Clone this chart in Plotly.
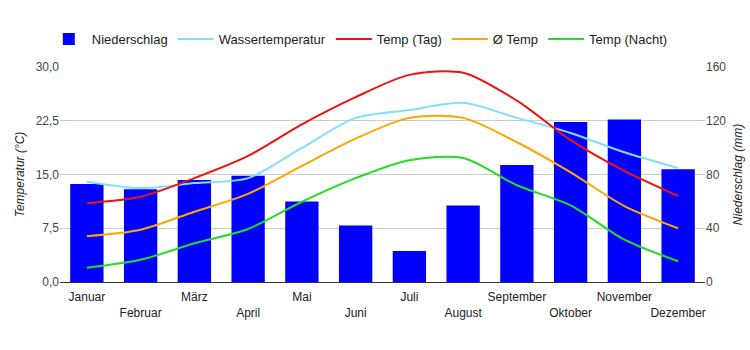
import plotly.graph_objects as go

months = ["Januar", "Februar", "März", "April", "Mai", "Juni", "Juli",
          "August", "September", "Oktober", "November", "Dezember"]
niederschlag = [73, 69, 76, 79, 60, 42, 23, 57, 87, 119, 121, 84]
wasser = [14.0, 13.1, 13.8, 14.5, 18.7, 22.9, 24.0, 25.0, 22.9, 20.8, 18.1, 15.9]
temp_tag = [11.0, 11.9, 14.5, 17.6, 22.0, 25.8, 28.9, 29.2, 25.3, 19.8, 15.5, 12.0]
temp_avg = [6.4, 7.3, 9.8, 12.3, 16.2, 20.0, 22.9, 22.9, 19.5, 15.3, 10.6, 7.5]
temp_nacht = [2.0, 3.1, 5.4, 7.4, 11.2, 14.5, 17.0, 17.3, 13.5, 10.7, 5.9, 2.9]
ytick_vals = [0, 7.5, 15, 22.5, 30]
y2tick_vals = [0, 40, 80, 120, 160]

ticktext = [m if i % 2 == 0 else "<br>" + m for i, m in enumerate(months)]

fig = go.Figure()
fig.add_trace(go.Bar(x=months, y=niederschlag, name="Niederschlag", yaxis="y",
                     marker=dict(color="#0000ff", line=dict(width=0)), width=0.62))
line_specs = [
    ("Wassertemperatur", wasser, "#80dfff"),
    ("Temp (Tag)", temp_tag, "#ee1111"),
    ("Ø Temp", temp_avg, "#ffa500"),
    ("Temp (Nacht)", temp_nacht, "#22dd22"),
]
for name, vals, col in line_specs:
    fig.add_trace(go.Scatter(x=months, y=vals, name=name, mode="lines", yaxis="y2",
                             line=dict(color=col, width=2, shape="spline", smoothing=0.8)))

fig.update_layout(
    width=750, height=350,
    margin=dict(l=60, r=45, t=67, b=68, autoexpand=False),
    paper_bgcolor="white", plot_bgcolor="white",
    font=dict(family="Liberation Sans, Arial, sans-serif", size=12, color="#333"),
    separators=",.",
    legend=dict(orientation="h", x=-0.022, xanchor="left", y=1.13, yanchor="middle",
                font=dict(size=13, color="#222"), itemwidth=36, traceorder="normal"),
    xaxis=dict(tickmode="array", tickvals=months, ticktext=ticktext, showgrid=False,
               showline=True, linecolor="#333", linewidth=1, ticks="", tickangle=0,
               ticklabelstandoff=4, tickfont=dict(size=12, color="#222")),
    yaxis=dict(range=[0, 160], tickvals=y2tick_vals, side="right",
               showgrid=True, gridcolor="#cccccc", zeroline=False, ticks="",
               tickfont=dict(size=12, color="#444"),
               title=dict(text="<i>Niederschlag (mm)</i>", font=dict(size=12, color="#222"), standoff=8)),
    yaxis2=dict(range=[0, 30], tickvals=ytick_vals, tickformat=".1f", overlaying="y", side="left",
                showgrid=False, zeroline=False, ticks="", tickfont=dict(size=12, color="#444"),
                title=dict(text="<i>Temperatur (°C)</i>", font=dict(size=12, color="#222"), standoff=8)),
)
fig.write_html("out.html")
